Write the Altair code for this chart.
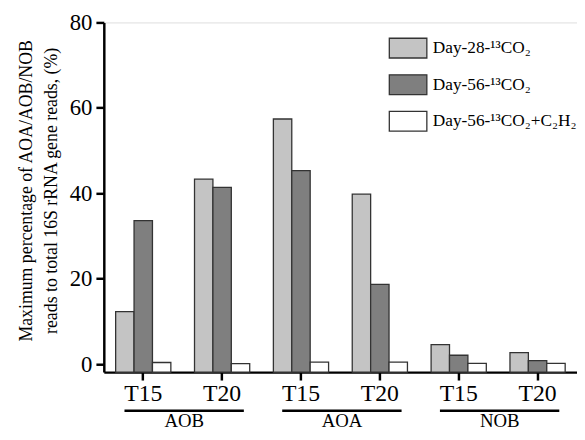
import altair as alt
import pandas as pd

groups = ["AOB", "AOB", "AOA", "AOA", "NOB", "NOB"]
treatments = ["T15", "T20", "T15", "T20", "T15", "T20"]
series_names = ["Day-28-¹³CO₂", "Day-56-¹³CO₂", "Day-56-¹³CO₂+C₂H₂"]
day28 = [12.3, 43.3, 57.4, 39.8, 4.6, 2.7]
day56 = [33.6, 41.4, 45.3, 18.7, 2.1, 0.85]
day56_c2h2 = [0.4, 0.15, 0.5, 0.5, 0.2, 0.2]
colors = ["#c4c4c4", "#7f7f7f", "#ffffff"]
y_ticks = [0, 20, 40, 60, 80]
YMIN, YMAX = -1.85, 80
FONT = "Liberation Serif"

cats = [f"{g}|{t}" for g, t in zip(groups, treatments)]
rows = []
for name, vals in zip(series_names, [day28, day56, day56_c2h2]):
    for c, v in zip(cats, vals):
        rows.append({"cat": c, "series": name, "value": v})
df = pd.DataFrame(rows)

grp_df = pd.DataFrame({
    "group": groups[0::2],
    "start": cats[0::2],
    "end": cats[1::2],
})

xscale = alt.Scale(domain=cats, paddingInner=0.3, paddingOuter=0.15)

bars = alt.Chart(df).mark_bar(stroke="#333333", strokeWidth=1.3).encode(
    x=alt.X("cat:N", scale=xscale, title=None,
            axis=alt.Axis(labelExpr="split(datum.value, '|')[1]", labelAngle=0,
                          labelFont=FONT, labelFontSize=24, labelColor="black",
                          labelPadding=2, tickSize=8, tickWidth=2.5, tickColor="black",
                          domainColor="black", domainWidth=2.5, labelBaseline="top")),
    xOffset=alt.XOffset("series:N", sort=series_names),
    y=alt.Y("value:Q", scale=alt.Scale(domain=[YMIN, YMAX], nice=False, zero=False),
            axis=alt.Axis(values=y_ticks, grid=False, labelFont=FONT, labelFontSize=23,
                          labelColor="black", labelPadding=4, tickSize=8, tickWidth=2.5,
                          tickColor="black", domainColor="black", domainWidth=2.5,
                          title=["Maximum percentage of AOA/AOB/NOB",
                                 "reads to total 16S rRNA gene reads, (%)"],
                          titleFont=FONT, titleFontSize=18, titleFontWeight="normal",
                          titleColor="black", titleAngle=-90, titleAlign="center",
                          titleBaseline="top", titleX=-87, titleY=170, titleLineHeight=25)),
    y2=alt.Y2Datum(YMIN),
    fill=alt.Fill("series:N", sort=series_names,
                  scale=alt.Scale(domain=series_names, range=colors),
                  legend=alt.Legend(title=None, orient="none", legendX=297, legendY=15,
                                    symbolType="M-1.9,-1H1.9V1H-1.9Z", symbolSize=400,
                                    symbolStrokeColor="#333333", symbolStrokeWidth=1.3,
                                    labelFont=FONT, labelFontSize=17.5, labelColor="black",
                                    labelOffset=14, rowPadding=11, padding=0)),
)

lines = alt.Chart(grp_df).mark_rule(color="black", strokeWidth=2.5, xOffset=-19, x2Offset=22).encode(
    x=alt.X("start:N", scale=xscale),
    x2="end:N",
    y=alt.value(393),
)

labels = alt.Chart(grp_df).mark_text(font=FONT, fontSize=19, color="black",
                                      baseline="alphabetic", dx=41.5).encode(
    x=alt.X("start:N", scale=xscale),
    text="group:N",
    y=alt.value(410),
)

chart = alt.layer(bars, lines, labels).properties(
    width=479, height=354,
    autosize=alt.AutoSizeParams(type="none"),
    padding={"left": 97, "top": 12, "right": 0, "bottom": 58},
).configure_view(stroke="black", strokeWidth=2.5).configure(background="white")

chart.save("out.html", embed_options={"renderer": "svg", "actions": False})
